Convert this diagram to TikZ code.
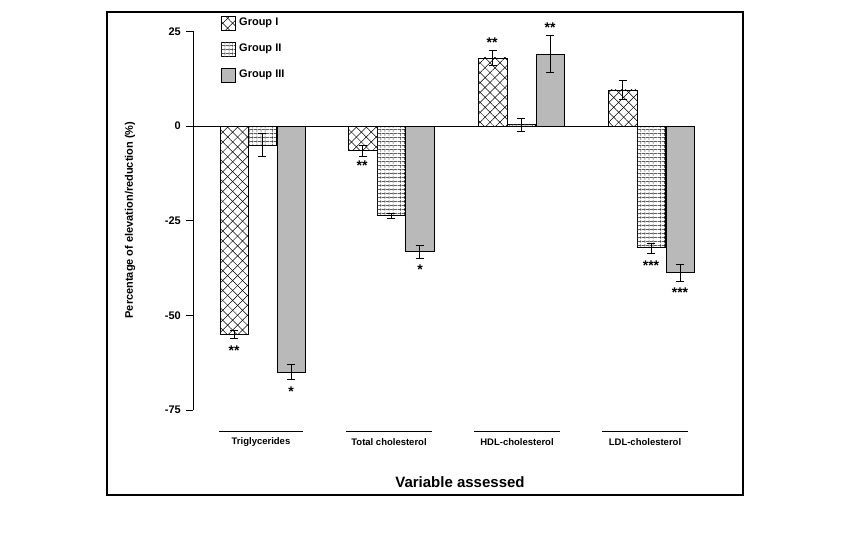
\documentclass[tikz,border=0pt]{standalone}
\usepackage{fontspec}
\setmainfont{Liberation Sans}
\usetikzlibrary{patterns.meta}
\begin{document}
\begin{tikzpicture}[x=1pt,y=-1pt,
  gI/.style={draw=black,fill=white,postaction={pattern={Lines[angle=45,distance=7pt,line width=0.5pt]}},postaction={pattern={Lines[angle=-45,distance=7pt,line width=0.5pt]}}},
  gII/.style={draw=black,fill=white,postaction={pattern={Lines[angle=0,distance=4pt,line width=0.5pt]}},postaction={pattern={Lines[angle=90,distance=4pt,line width=0.5pt]}}},
  gIII/.style={draw=black,fill=gray!55},
  eb/.style={line width=0.9pt},
  st/.style={font=\bfseries\fontsize{14}{14}\selectfont,inner sep=0pt},
  tl/.style={font=\bfseries\fontsize{11}{11}\selectfont,anchor=east,inner sep=0pt},
  cl/.style={font=\bfseries\fontsize{9.5}{10}\selectfont,inner sep=0pt},
  lg/.style={font=\bfseries\fontsize{11}{11}\selectfont,anchor=west,inner sep=0pt}]
\useasboundingbox (0,0) rectangle (850,533);
\draw[line width=1.6pt] (107,12) rectangle (743,495);
\def\Y#1{126-3.79*(#1)}
% axis
\draw[line width=1pt] (193,{\Y{25}}) coordinate (ytop) -- (193,{\Y{-75}}) coordinate (ybot);
\foreach \v in {25,0,-25,-50,-75}{
  \draw[line width=1pt] (186,{\Y{\v}}) -- (193,{\Y{\v}});
  \node[tl] (t\v) at (181,{\Y{\v}}) {\v};}
\node[rotate=90,font=\bfseries\fontsize{11}{11}\selectfont] (ylab) at (130,220) {Percentage of elevation/reduction (\%)};
% bars
\foreach \xa/\xb/\v/\s/\lo/\hi in {
 220/248/-55/gI/-54/-56, 248/276/-5/gII/-2/-8, 277/305/-65/gIII/-63/-67,
 348/377/-6.5/gI/-5/-8, 377/405/-23.5/gII/-23/-24.5, 405/434/-33/gIII/-31.5/-35,
 478/507/18/gI/16/20, 507/535/0.5/gII/-1.5/2, 536/564/19/gIII/14/24,
 608/637/9.5/gI/7/12, 637/665/-32/gII/-31/-33.5, 666/694/-38.5/gIII/-36.5/-41}{
  \path[\s] (\xa,{\Y{0}}) rectangle (\xb,{\Y{\v}});
  \pgfmathsetmacro\xm{(\xa+\xb)/2}
  \draw[eb] (\xm,{\Y{\lo}}) -- (\xm,{\Y{\hi}});
  \draw[eb] (\xm-4,{\Y{\lo}}) -- (\xm+4,{\Y{\lo}});
  \draw[eb] (\xm-4,{\Y{\hi}}) -- (\xm+4,{\Y{\hi}});
}
\draw[line width=1pt] (193,{\Y{0}}) -- (694,{\Y{0}});
% stars
\node[st] (s1) at (234,351) {**};
\node[st] (s2) at (291,392) {*};
\node[st] (s3) at (362,166) {**};
\node[st] (s4) at (420,270) {*};
\node[st] (s5) at (492,43) {**};
\node[st] (s6) at (550,28) {**};
\node[st] (s7) at (651,266) {***};
\node[st] (s8) at (680,293) {***};
% categories
\foreach \xa/\xb/\t/\n in {219/303/Triglycerides/c1,346/432/Total cholesterol/c2,474/560/HDL-cholesterol/c3,602/688/LDL-cholesterol/c4}{
  \draw[line width=0.8pt] (\xa,431) -- (\xb,431);
  \node[cl] (\n) at ({(\xa+\xb)/2},442) {\t};}
\node[font=\bfseries\fontsize{15}{15}\selectfont] (xlab) at (460,482) {Variable assessed};
% legend
\path[gI] (221,16) rectangle (235,30); \node[lg] (l1) at (239,23) {Group I};
\path[gII] (221,42) rectangle (235,56); \node[lg] (l2) at (239,49) {Group II};
\path[gIII] (221,68) rectangle (235,82); \node[lg] (l3) at (239,75) {Group III};
\end{tikzpicture}
\end{document}
